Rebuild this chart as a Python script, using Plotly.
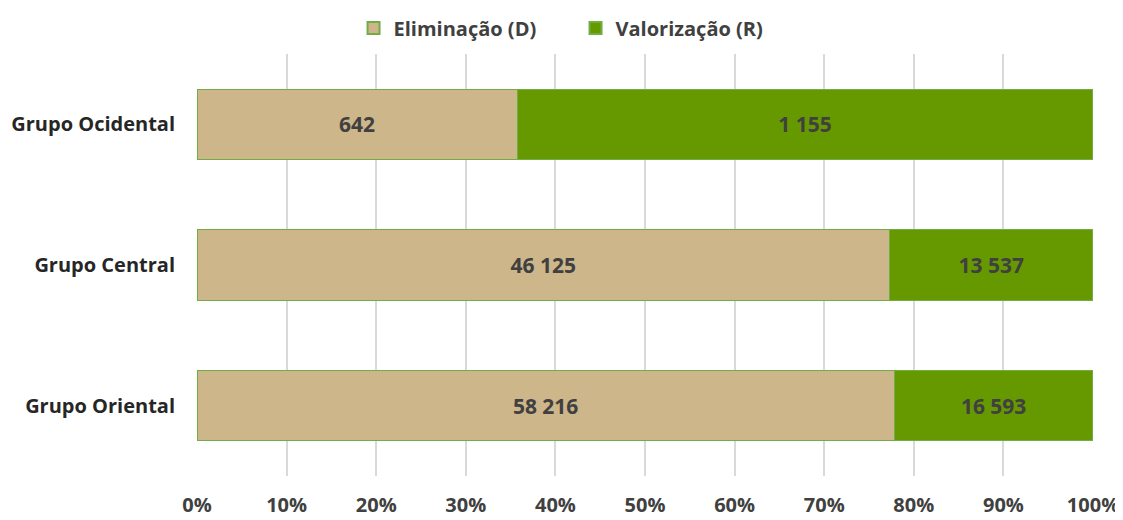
import plotly.graph_objects as go

categories = ["Grupo Oriental", "Grupo Central", "Grupo Ocidental"]
elim = [58216, 46125, 642]
valor = [16593, 13537, 1155]
series_names = ["Eliminação (D)", "Valorização (R)"]
tick_vals = [0, 10, 20, 30, 40, 50, 60, 70, 80, 90, 100]
tick_text = [f"{v}%" for v in tick_vals]

def fmt(v):
    return f"{v:,}".replace(",", " ")

FONT = "Open Sans"
SZ = 20
LBL = 21
fig = go.Figure()
fig.add_trace(go.Bar(
    y=categories, x=elim, orientation="h", name=series_names[0],
    marker=dict(color="#CDB68A", line=dict(color="#70AD47", width=1.2)),
    text=[fmt(v) for v in elim], textposition="inside", insidetextanchor="middle",
    textfont=dict(family=FONT, size=LBL, color="#404040", weight="bold"),
    hoverinfo="skip",
))
fig.add_trace(go.Bar(
    y=categories, x=valor, orientation="h", name=series_names[1],
    marker=dict(color="#669900", line=dict(color="#70AD47", width=1.2)),
    text=[fmt(v) for v in valor], textposition="inside", insidetextanchor="middle",
    textfont=dict(family=FONT, size=LBL, color="#404040", weight="bold"),
    hoverinfo="skip",
))
fig.update_layout(
    barmode="stack", barnorm="percent", bargap=0.5,
    width=1115, height=512,
    margin=dict(l=189, r=30, t=45.5, b=43.5, autoexpand=False),
    plot_bgcolor="white", paper_bgcolor="white",
    font=dict(family=FONT, size=SZ, color="#404040"),
    legend=dict(orientation="h", xref="container", yref="container",
                x=0.509, xanchor="center", y=0.961, yanchor="middle",
                font=dict(family=FONT, size=SZ, color="#404040", weight="bold"),
                itemsizing="constant", traceorder="normal", entrywidth=177),
    showlegend=True,
)
fig.update_xaxes(range=[0, 100], tickvals=tick_vals, ticktext=tick_text, automargin=False,
                 showgrid=True, gridcolor="#D9D9D9", gridwidth=1.5, zeroline=False,
                 tickfont=dict(family=FONT, size=SZ, color="#404040", weight="bold"),
                 ticks="", ticklabelstandoff=15, fixedrange=True)
fig.update_yaxes(showgrid=False, zeroline=False, ticks="", automargin=False,
                 tickfont=dict(family=FONT, size=SZ, color="#262626", weight="bold"),
                 ticklabelstandoff=21, range=[-0.5, 2.5])
fig.write_html("out.html")
